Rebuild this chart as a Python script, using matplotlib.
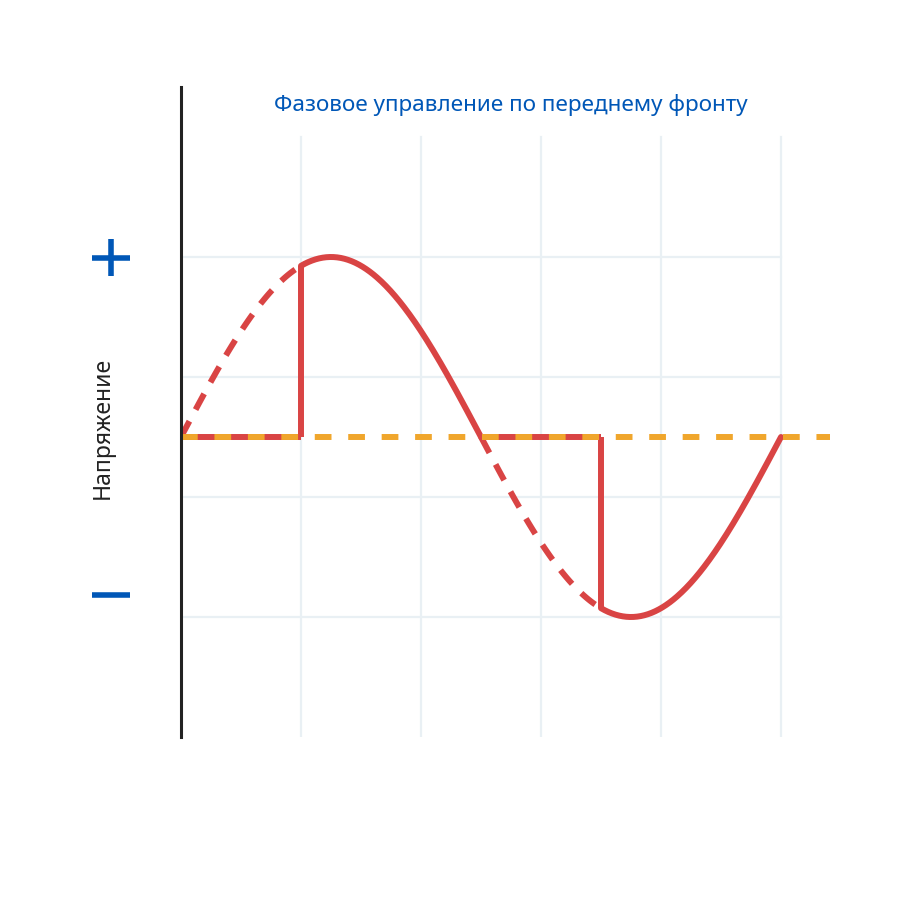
import numpy as np
import matplotlib
matplotlib.use("Agg")
import matplotlib.pyplot as plt
from matplotlib.lines import Line2D

plt.rcParams['font.family'] = ['Noto Sans', 'DejaVu Sans']

# ---- data ----
title = "Фазовое управление по переднему фронту"
ylabel = "Напряжение"
amplitude = 1.5          # peak voltage (grid units)
half_period = 2.5        # x-units per half cycle
firing_delay = 1.0       # x-units after each zero crossing
grid_x = [1, 2, 3, 4, 5]
grid_y = [-1.5, -0.5, 0.5, 1.5]

RED = "#d94444"
ORANGE = "#f0a62c"
BLUE = "#0057b7"
GRID = "#e9f0f4"

W = H = 920
fig = plt.figure(figsize=(9.2, 9.2), dpi=100)
left, right, bottom, top = 181, 840, 738, 80
ax = fig.add_axes([left / W, 1 - bottom / H, (right - left) / W, (bottom - top) / H])
unit = 120.0
ax.set_xlim(0, (right - left) / unit)
ax.set_ylim(-2.5, (438 - top) / unit)
ax.axis("off")

# grid
for gx in grid_x:
    ax.plot([gx, gx], [-2.5, 2.5], color=GRID, lw=1.6, zorder=1)
for gy in grid_y:
    ax.plot([0, 5], [gy, gy], color=GRID, lw=1.6, zorder=1)

def wave(x):
    return amplitude * np.sin(np.pi * x / half_period)

kw = dict(color=RED, lw=4.3, solid_capstyle="butt", zorder=3)
# non-conducting parts (dashed)
for start in (0.0, half_period):
    xs = np.linspace(start, start + firing_delay, 100)
    ax.plot(xs, wave(xs), color=RED, lw=4.3, dashes=(3.0, 2.2), zorder=3)
    ax.plot([start, start + firing_delay], [0, 0], **kw)
    # vertical jump
    xf = start + firing_delay
    ax.plot([xf, xf], [0, wave(xf)], **kw)
    xs2 = np.linspace(xf, start + half_period, 200)
    ax.plot(xs2, wave(xs2), color=RED, lw=4.3, solid_capstyle="round", zorder=3)

# zero line (orange dashed)
ax.plot([0, (830 - left) / unit], [0, 0], color=ORANGE, lw=4.3, dashes=(2.8, 2.8), zorder=4)

# y axis line
ax.plot([0, 0], [-2.5, (438 - 88) / unit], color="#222222", lw=2.2, zorder=5, clip_on=False)

ax.text(2.75, (438 - 105) / unit, title, color=BLUE, fontsize=16.2, ha="center", va="center")

fig.text(103 / W, 1 - 428 / H, ylabel, rotation=90, color="#222222", fontsize=16.5,
         ha="center", va="center")

# plus / minus signs
def fl(x0, y0, x1, y1):
    fig.add_artist(Line2D([x0 / W, x1 / W], [1 - y0 / H, 1 - y1 / H], color=BLUE, lw=4.0,
                          solid_capstyle="butt", transform=fig.transFigure))
fl(92, 258.5, 130, 258.5)
fl(111, 240, 111, 277)
fl(92, 595.5, 130, 595.5)

fig.savefig("out.png", dpi=100, facecolor="white")
